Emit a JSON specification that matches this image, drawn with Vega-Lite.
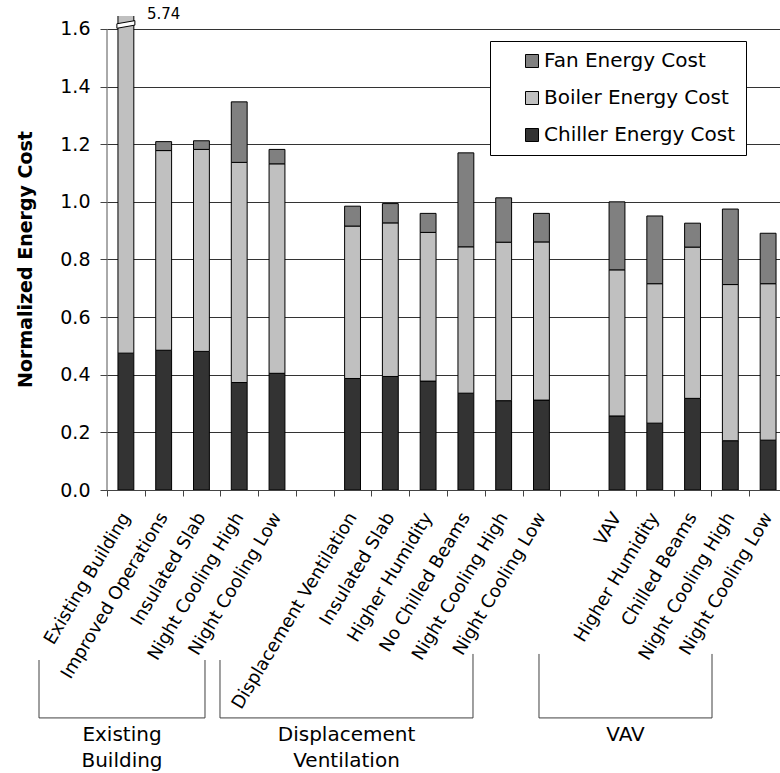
{
  "$schema": "https://vega.github.io/schema/vega-lite/v6.json",
  "width": 673,
  "height": 474,
  "autosize": {"type": "none"},
  "padding": {"left": 107, "top": 16, "right": 0, "bottom": 283},
  "config": {
    "font": "DejaVu Sans",
    "view": {"stroke": null}
  },
  "datasets": {
    "costs": [
      {"option": "EB|Existing Building", "Chiller Energy Cost": 0.475, "Boiler Energy Cost": 5.235, "Fan Energy Cost": 0.03},
      {"option": "EB|Improved Operations", "Chiller Energy Cost": 0.485, "Boiler Energy Cost": 0.693, "Fan Energy Cost": 0.031},
      {"option": "EB|Insulated Slab", "Chiller Energy Cost": 0.481, "Boiler Energy Cost": 0.701, "Fan Energy Cost": 0.03},
      {"option": "EB|Night Cooling High", "Chiller Energy Cost": 0.373, "Boiler Energy Cost": 0.764, "Fan Energy Cost": 0.21},
      {"option": "EB|Night Cooling Low", "Chiller Energy Cost": 0.405, "Boiler Energy Cost": 0.727, "Fan Energy Cost": 0.05},
      {"option": "DV|Displacement Ventilation", "Chiller Energy Cost": 0.387, "Boiler Energy Cost": 0.529, "Fan Energy Cost": 0.069},
      {"option": "DV|Insulated Slab", "Chiller Energy Cost": 0.394, "Boiler Energy Cost": 0.533, "Fan Energy Cost": 0.067},
      {"option": "DV|Higher Humidity", "Chiller Energy Cost": 0.378, "Boiler Energy Cost": 0.516, "Fan Energy Cost": 0.066},
      {"option": "DV|No Chilled Beams", "Chiller Energy Cost": 0.336, "Boiler Energy Cost": 0.508, "Fan Energy Cost": 0.326},
      {"option": "DV|Night Cooling High", "Chiller Energy Cost": 0.31, "Boiler Energy Cost": 0.55, "Fan Energy Cost": 0.154},
      {"option": "DV|Night Cooling Low", "Chiller Energy Cost": 0.312, "Boiler Energy Cost": 0.549, "Fan Energy Cost": 0.099},
      {"option": "VAV|VAV", "Chiller Energy Cost": 0.257, "Boiler Energy Cost": 0.507, "Fan Energy Cost": 0.236},
      {"option": "VAV|Higher Humidity", "Chiller Energy Cost": 0.232, "Boiler Energy Cost": 0.484, "Fan Energy Cost": 0.235},
      {"option": "VAV|Chilled Beams", "Chiller Energy Cost": 0.318, "Boiler Energy Cost": 0.525, "Fan Energy Cost": 0.083},
      {"option": "VAV|Night Cooling High", "Chiller Energy Cost": 0.171, "Boiler Energy Cost": 0.542, "Fan Energy Cost": 0.262},
      {"option": "VAV|Night Cooling Low", "Chiller Energy Cost": 0.173, "Boiler Energy Cost": 0.543, "Fan Energy Cost": 0.175}
    ]
  },
  "layer": [
    {
      "data": {"name": "costs"},
      "transform": [
        {"fold": ["Chiller Energy Cost", "Boiler Energy Cost", "Fan Energy Cost"], "as": ["component", "cost"]},
        {"calculate": "indexof(['Chiller Energy Cost', 'Boiler Energy Cost', 'Fan Energy Cost'], datum.component)", "as": "stackOrder"}
      ],
      "mark": {"type": "bar", "stroke": "#000", "strokeWidth": 1, "width": {"band": 0.42}, "clip": true},
      "encoding": {
        "x": {
          "field": "option",
          "type": "nominal",
          "sort": null,
          "title": null,
          "scale": {
            "domain": [
              "EB|Existing Building", "EB|Improved Operations", "EB|Insulated Slab", "EB|Night Cooling High", "EB|Night Cooling Low",
              "gap-1",
              "DV|Displacement Ventilation", "DV|Insulated Slab", "DV|Higher Humidity", "DV|No Chilled Beams", "DV|Night Cooling High", "DV|Night Cooling Low",
              "gap-2",
              "VAV|VAV", "VAV|Higher Humidity", "VAV|Chilled Beams", "VAV|Night Cooling High", "VAV|Night Cooling Low"
            ],
            "range": [0, 680],
            "paddingInner": 0,
            "paddingOuter": 0
          },
          "axis": {
            "orient": "bottom",
            "labelExpr": "isString(datum.value) && indexof(datum.value, '|') >= 0 ? split(datum.value, '|')[1] : ''",
            "labelAngle": -59,
            "labelAlign": "right",
            "labelBaseline": "middle",
            "labelFontSize": 18,
            "labelColor": "#000",
            "labelPadding": 18,
            "labelLimit": 320,
            "labelOverlap": false,
            "labelBound": false,
            "tickBand": "extent",
            "tickSize": 6,
            "tickColor": "#444",
            "domainColor": "#444",
            "grid": false
          }
        },
        "y": {
          "field": "cost",
          "type": "quantitative",
          "stack": "zero",
          "title": "Normalized Energy Cost",
          "scale": {"domain": [0, 1.645], "nice": false, "zero": true},
          "axis": {
            "orient": "left",
            "values": [0, 0.2, 0.4, 0.6, 0.8, 1, 1.2, 1.4, 1.6],
            "format": ".1f",
            "labelFontSize": 19,
            "labelColor": "#000",
            "labelPadding": 10,
            "tickSize": 7,
            "tickColor": "#444",
            "domain": false,
            "grid": true,
            "gridColor": "#333",
            "titleFontSize": 19,
            "titleFontWeight": "bold",
            "titleColor": "#000",
            "titleX": -82,
            "titleY": 243,
            "titleAlign": "center",
            "titleBaseline": "middle",
            "titleAngle": -90
          }
        },
        "color": {
          "field": "component",
          "type": "nominal",
          "scale": {
            "domain": ["Fan Energy Cost", "Boiler Energy Cost", "Chiller Energy Cost"],
            "range": ["#808080", "#c0c0c0", "#333333"]
          },
          "legend": {
            "title": null,
            "orient": "none",
            "legendX": 383,
            "legendY": 25,
            "direction": "vertical",
            "strokeColor": "#000",
            "fillColor": "#fff",
            "padding": 10,
            "symbolType": "square",
            "symbolSize": 169,
            "symbolStrokeColor": "#000",
            "symbolStrokeWidth": 1,
            "symbolOffset": 22,
            "labelOffset": 2,
            "labelFontSize": 20,
            "labelColor": "#000",
            "labelLimit": 400,
            "rowPadding": 17,
            "labelExpr": "datum.label + '\u00a0\u00a0\u00a0'"
          }
        },
        "order": {"field": "stackOrder", "type": "quantitative"}
      }
    },
    {
      "data": {"name": "costs"},
      "transform": [
        {"fold": ["Chiller Energy Cost", "Boiler Energy Cost", "Fan Energy Cost"], "as": ["component", "cost"]},
        {"aggregate": [{"op": "sum", "field": "cost", "as": "total"}], "groupby": ["option"]},
        {"filter": "datum.total > 1.645"}
      ],
      "mark": {
        "type": "point",
        "shape": "M-1,0L1,-0.35L1,0.15L-1,0.5Z",
        "size": 324,
        "filled": true,
        "fill": "#fff",
        "stroke": "#000",
        "strokeWidth": 1,
        "opacity": 1
      },
      "encoding": {
        "x": {"field": "option", "type": "nominal", "title": null},
        "y": {"datum": 1.618, "title": "Normalized Energy Cost"}
      }
    },
    {
      "data": {"name": "costs"},
      "transform": [
        {"fold": ["Chiller Energy Cost", "Boiler Energy Cost", "Fan Energy Cost"], "as": ["component", "cost"]},
        {"aggregate": [{"op": "sum", "field": "cost", "as": "total"}], "groupby": ["option"]},
        {"filter": "datum.total > 1.645"}
      ],
      "mark": {"type": "text", "align": "left", "baseline": "middle", "dx": 21, "dy": -2, "fontSize": 15, "color": "#000"},
      "encoding": {
        "x": {"field": "option", "type": "nominal", "title": null},
        "y": {"datum": 1.645, "title": "Normalized Energy Cost"},
        "text": {"field": "total", "type": "quantitative", "format": ".2f"}
      }
    },
    {
      "data": {"values": [{}]},
      "mark": {"type": "rule", "color": "#555", "strokeWidth": 1},
      "encoding": {
        "x": {"datum": "EB|Existing Building", "bandPosition": 0, "title": null},
        "y": {"datum": 0, "title": "Normalized Energy Cost"},
        "y2": {"datum": 1.6}
      }
    },
    {
      "data": {"values": [{}]},
      "mark": {"type": "rule", "color": "#404040", "strokeWidth": 1},
      "encoding": {
        "x": {"datum": "EB|Existing Building", "bandPosition": -1.8, "title": null},
        "y": {"datum": -0.59, "title": "Normalized Energy Cost"},
        "y2": {"datum": -0.791}
      }
    },
    {
      "data": {"values": [{}]},
      "mark": {"type": "rule", "color": "#404040", "strokeWidth": 1},
      "encoding": {
        "x": {"datum": "EB|Existing Building", "bandPosition": -1.8, "title": null},
        "x2": {"datum": "EB|Insulated Slab", "bandPosition": 0.594},
        "y": {"datum": -0.791, "title": "Normalized Energy Cost"}
      }
    },
    {
      "data": {"values": [{}]},
      "mark": {"type": "rule", "color": "#404040", "strokeWidth": 1},
      "encoding": {
        "x": {"datum": "EB|Insulated Slab", "bandPosition": 0.594, "title": null},
        "y": {"datum": -0.59, "title": "Normalized Energy Cost"},
        "y2": {"datum": -0.791}
      }
    },
    {
      "data": {"values": [{}]},
      "mark": {"type": "rule", "color": "#404040", "strokeWidth": 1},
      "encoding": {
        "x": {"datum": "DV|Displacement Ventilation", "bandPosition": -3.009, "title": null},
        "y": {"datum": -0.59, "title": "Normalized Energy Cost"},
        "y2": {"datum": -0.791}
      }
    },
    {
      "data": {"values": [{}]},
      "mark": {"type": "rule", "color": "#404040", "strokeWidth": 1},
      "encoding": {
        "x": {"datum": "DV|Displacement Ventilation", "bandPosition": -3.009, "title": null},
        "x2": {"datum": "DV|No Chilled Beams", "bandPosition": 0.688},
        "y": {"datum": -0.791, "title": "Normalized Energy Cost"}
      }
    },
    {
      "data": {"values": [{}]},
      "mark": {"type": "rule", "color": "#404040", "strokeWidth": 1},
      "encoding": {
        "x": {"datum": "DV|No Chilled Beams", "bandPosition": 0.688, "title": null},
        "y": {"datum": -0.569, "title": "Normalized Energy Cost"},
        "y2": {"datum": -0.791}
      }
    },
    {
      "data": {"values": [{}]},
      "mark": {"type": "rule", "color": "#404040", "strokeWidth": 1},
      "encoding": {
        "x": {"datum": "VAV|VAV", "bandPosition": -1.565, "title": null},
        "y": {"datum": -0.569, "title": "Normalized Energy Cost"},
        "y2": {"datum": -0.791}
      }
    },
    {
      "data": {"values": [{}]},
      "mark": {"type": "rule", "color": "#404040", "strokeWidth": 1},
      "encoding": {
        "x": {"datum": "VAV|VAV", "bandPosition": -1.565, "title": null},
        "x2": {"datum": "VAV|Night Cooling High", "bandPosition": 0.015},
        "y": {"datum": -0.791, "title": "Normalized Energy Cost"}
      }
    },
    {
      "data": {"values": [{}]},
      "mark": {"type": "rule", "color": "#404040", "strokeWidth": 1},
      "encoding": {
        "x": {"datum": "VAV|Night Cooling High", "bandPosition": 0.015, "title": null},
        "y": {"datum": -0.569, "title": "Normalized Energy Cost"},
        "y2": {"datum": -0.791}
      }
    },
    {
      "data": {"values": [{}]},
      "mark": {"type": "text", "align": "center", "baseline": "alphabetic", "fontSize": 20, "lineHeight": 26, "color": "#000"},
      "encoding": {
        "x": {"datum": "EB|Existing Building", "bandPosition": 0.397, "title": null},
        "y": {"datum": -0.871, "title": "Normalized Energy Cost"},
        "text": {"value": ["Existing", "Building"]}
      }
    },
    {
      "data": {"values": [{}]},
      "mark": {"type": "text", "align": "center", "baseline": "alphabetic", "fontSize": 20, "lineHeight": 26, "color": "#000"},
      "encoding": {
        "x": {"datum": "DV|Displacement Ventilation", "bandPosition": 0.34, "title": null},
        "y": {"datum": -0.871, "title": "Normalized Energy Cost"},
        "text": {"value": ["Displacement", "Ventilation"]}
      }
    },
    {
      "data": {"values": [{}]},
      "mark": {"type": "text", "align": "center", "baseline": "alphabetic", "fontSize": 20, "lineHeight": 26, "color": "#000"},
      "encoding": {
        "x": {"datum": "VAV|VAV", "bandPosition": 0.725, "title": null},
        "y": {"datum": -0.871, "title": "Normalized Energy Cost"},
        "text": {"value": "VAV"}
      }
    }
  ]
}
